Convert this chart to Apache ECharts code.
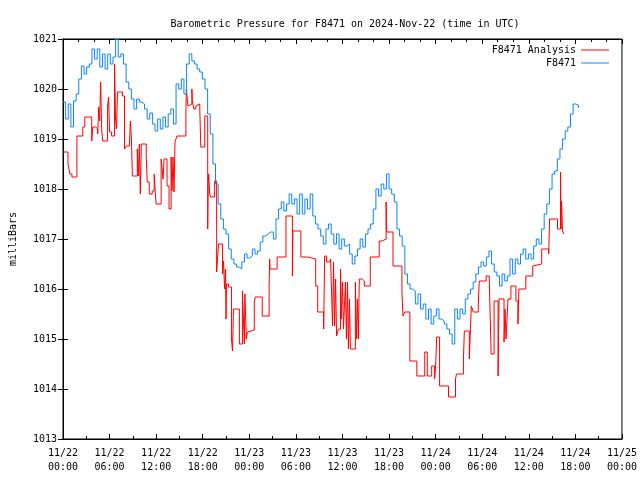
<!DOCTYPE html>
<html><head><meta charset="utf-8">
<script src="https://cdn.jsdelivr.net/npm/echarts@6/dist/echarts.min.js"></script>
<style>html,body{margin:0;padding:0;background:#fff}#c{width:640px;height:480px}</style>
</head><body><div id="c"></div>
<script>
const FONT = 'DejaVu Sans Mono';
const chartTitle = 'Barometric Pressure for F8471 on 2024-Nov-22 (time in UTC)';
const yAxisName = 'milliBars';
const seriesNames = ['F8471 Analysis', 'F8471'];
// x axis: hours since 2024-11-22 00:00 UTC
const xMin = 0, xMax = 72, xStep = 6;
const yMin = 1013, yMax = 1021, yStep = 1;

// F8471 observations, one reading about every 20.3 minutes, starting 11/22 00:00
const blueStepHours = 0.3387;
const blueValues = [
1019.74,1019.40,1019.70,1019.24,1019.76,1019.90,1020.20,1020.46,1020.30,1020.44,
1020.50,1020.80,1020.60,1020.80,1020.44,1020.70,1020.40,1020.70,1020.50,1020.64,
1021.00,1020.64,1020.70,1020.50,1020.14,1020.00,1019.80,1019.60,1019.80,1019.74,
1019.70,1019.60,1019.40,1019.52,1019.30,1019.16,1019.40,1019.20,1019.44,1019.24,
1019.50,1019.60,1019.30,1020.10,1020.00,1020.20,1019.90,1020.50,1020.70,1020.56,
1020.50,1020.40,1020.34,1020.20,1020.00,1019.50,1019.10,1018.50,1018.10,1017.70,
1017.40,1017.20,1017.10,1016.80,1016.60,1016.50,1016.44,1016.40,1016.54,1016.70,
1016.62,1016.66,1016.80,1016.70,1016.76,1016.94,1017.06,1017.10,1017.14,1017.14,
1017.00,1017.40,1017.60,1017.74,1017.56,1017.70,1017.90,1017.70,1017.80,1017.50,
1017.90,1017.50,1017.80,1017.60,1017.90,1017.46,1017.30,1017.20,1017.06,1016.90,
1017.20,1017.30,1017.10,1016.90,1017.10,1016.80,1017.00,1016.86,1016.90,1016.70,
1016.50,1016.66,1016.80,1017.00,1016.84,1017.10,1017.20,1017.30,1017.60,1018.00,
1017.86,1018.10,1018.00,1018.30,1018.00,1017.90,1017.74,1017.20,1017.06,1016.86,
1016.30,1016.10,1016.00,1015.96,1015.70,1015.90,1015.60,1015.70,1015.40,1015.60,
1015.30,1015.46,1015.60,1015.40,1015.36,1015.30,1015.20,1015.10,1014.90,1015.60,
1015.40,1015.60,1015.50,1015.80,1015.90,1016.00,1016.14,1016.30,1016.44,1016.54,
1016.46,1016.64,1016.76,1016.50,1016.34,1016.26,1016.06,1016.30,1016.16,1016.26,
1016.60,1016.30,1016.60,1016.50,1016.70,1016.80,1016.60,1016.70,1016.60,1016.86,
1017.00,1016.90,1017.20,1017.50,1017.70,1018.00,1018.30,1018.36,1018.60,1018.80,
1019.00,1019.16,1019.24,1019.50,1019.70,1019.68,1019.62
];

// F8471 Analysis: [hour, value] at each step change
const redSteps = [
[0,1018.74],[0.64,1018.5],[0.89,1018.3],[1.15,1018.24],[1.79,1019.06],[2.55,1019.24],[2.81,1019.44],
[3.70,1018.96],[3.83,1019.24],[4.21,1019.2],[4.47,1019.1],[4.60,1019.64],[4.72,1019.36],[4.85,1020.14],
[4.98,1019.2],[5.11,1018.96],[5.74,1019.66],[5.87,1019.84],[6.00,1019.14],[6.26,1019.06],[6.64,1020.5],
[6.77,1019.4],[6.89,1019.2],[7.02,1019.94],[7.66,1019.86],[7.92,1018.8],[8.17,1018.86],[8.55,1018.9],
[8.68,1019.36],[8.81,1019.0],[8.94,1018.26],[9.57,1018.8],[9.70,1018.26],[9.83,1018.9],[9.96,1017.9],
[10.09,1018.9],[10.72,1018.66],[10.85,1018.14],[11.11,1017.9],[11.49,1017.96],[11.75,1018.3],[11.87,1017.96],
[12.00,1017.7],[12.64,1018.6],[12.89,1018.2],[13.02,1018.6],[13.40,1018.06],[13.66,1017.6],[13.92,1018.64],
[14.04,1017.96],[14.17,1018.64],[14.30,1017.94],[14.43,1018.94],[14.55,1019.0],[14.68,1019.06],[15.83,1019.54],
[15.89,1020.0],[16.09,1019.66],[16.34,1019.7],[16.60,1020.0],[16.66,1019.76],[16.85,1019.6],[17.11,1019.66],
[17.36,1019.7],[17.62,1019.6],[17.75,1018.84],[18.26,1019.46],[18.64,1017.2],[18.70,1018.1],[18.77,1018.3],
[18.89,1017.9],[19.02,1017.84],[19.53,1018.16],[19.79,1016.34],[20.04,1016.9],[20.55,1016.3],[20.68,1016.56],
[20.81,1016.0],[20.94,1016.4],[21.00,1015.4],[21.06,1016.1],[21.32,1016.04],[21.70,1015.0],[21.83,1014.76],
[21.96,1015.6],[22.72,1014.9],[23.11,1015.96],[23.36,1014.9],[23.43,1015.9],[23.62,1015.0],[23.75,1015.14],
[24.00,1015.18],[24.64,1015.74],[24.77,1015.84],[25.66,1015.46],[26.55,1016.04],[26.62,1016.6],[26.68,1016.4],
[27.58,1016.64],[28.72,1017.46],[29.55,1016.26],[29.62,1017.16],[30.64,1016.64],[31.53,1016.6],[32.55,1016.06],
[32.81,1015.54],[33.58,1015.2],[33.70,1016.66],[33.96,1016.54],[34.34,1016.5],[34.47,1016.6],[34.72,1015.26],
[34.85,1016.54],[34.98,1015.26],[35.11,1016.2],[35.24,1015.06],[35.49,1015.2],[35.75,1016.4],[35.87,1015.4],
[36.00,1016.14],[36.13,1015.2],[36.38,1016.14],[36.51,1015.0],[36.64,1016.14],[36.77,1014.8],[36.90,1015.8],
[37.02,1014.8],[37.66,1016.14],[37.79,1015.0],[37.92,1015.8],[38.04,1015.0],[38.17,1016.2],[38.55,1016.16],
[38.81,1016.06],[39.58,1016.64],[40.73,1016.96],[41.11,1017.0],[41.62,1017.74],[41.68,1017.14],[42.51,1016.46],
[43.66,1015.94],[43.79,1015.46],[44.04,1015.54],[44.68,1014.56],[45.58,1014.26],[46.60,1014.74],[46.92,1014.26],
[47.49,1014.46],[47.87,1014.2],[48.00,1014.46],[48.13,1015.04],[48.51,1014.06],[49.66,1013.84],[50.56,1014.2],
[50.68,1014.3],[51.58,1014.6],[51.70,1015.16],[52.34,1014.6],[52.47,1015.16],[52.60,1015.66],[52.85,1015.54],
[53.49,1015.66],[53.62,1016.16],[54.51,1016.26],[54.90,1016.3],[55.15,1014.7],[55.53,1015.76],[56.04,1014.26],
[56.17,1015.8],[56.81,1014.94],[56.94,1015.6],[57.07,1015.0],[57.32,1015.8],[57.70,1016.06],[58.34,1015.76],
[58.60,1015.3],[58.73,1016.0],[59.62,1016.26],[60.51,1016.46],[60.64,1016.5],[61.66,1016.8],[62.56,1016.7],
[62.68,1017.4],[63.70,1017.2],[64.09,1018.34],[64.15,1017.2],[64.22,1017.76],[64.34,1017.16],[64.47,1017.12],
[64.53,1017.1]
];

const redColor = '#ff0000';
const blueColor = '#0a84ff';

function xLabel(v) {
  const d = 22 + Math.floor(v / 24);
  const hh = v % 24;
  return '11/' + d + '\n' + String(hh).padStart(2, '0') + ':00';
}
function yLabel(v) { return String(v); }

const blueData = blueValues.map((v, i) => [i * blueStepHours, v]);
const black = '#000';
const txt = { fontFamily: FONT, fontSize: 10, color: black };

const chart = echarts.init(document.getElementById('c'), null, { renderer: 'canvas' });
chart.setOption({
  animation: false,
  backgroundColor: '#fff',
  title: { text: chartTitle, left: 340, top: 14, textAlign: 'center',
    textStyle: Object.assign({ fontWeight: 'normal' }, txt) },
  legend: [
    { right: 31, top: 44.5, padding: 0, align: 'right', itemWidth: 28, itemHeight: 1,
      textStyle: Object.assign({ lineHeight: 11 }, txt),
      data: [{ name: seriesNames[0], icon: 'rect' }] },
    { right: 31, top: 57.5, padding: 0, align: 'right', itemWidth: 28, itemHeight: 1,
      textStyle: Object.assign({ lineHeight: 11 }, txt),
      data: [{ name: seriesNames[1], icon: 'rect' }] }
  ],
  grid: { left: 58, right: 18, top: 39, bottom: 41, show: true, borderColor: black, borderWidth: 1 },
  xAxis: [
    { type: 'value', min: xMin, max: xMax, interval: xStep,
      axisLine: { show: true, lineStyle: { color: black } },
      axisTick: { show: true, inside: true, length: 5, lineStyle: { color: black } },
      minorTick: { show: true, splitNumber: 2, length: 3, lineStyle: { color: black } },
      splitLine: { show: false }, minorSplitLine: { show: false },
      axisLabel: Object.assign({ formatter: xLabel, lineHeight: 14, margin: 7, showMinLabel: true, showMaxLabel: true }, txt) },
    { type: 'value', position: 'top', min: xMin, max: xMax, interval: xStep,
      axisLine: { show: true, lineStyle: { color: black } },
      axisTick: { show: true, inside: true, length: 5, lineStyle: { color: black } },
      minorTick: { show: true, splitNumber: 3, length: 3, lineStyle: { color: black } },
      splitLine: { show: false }, axisLabel: { show: false } }
  ],
  yAxis: [
    { type: 'value', min: yMin, max: yMax, interval: yStep,
      name: yAxisName, nameLocation: 'middle', nameGap: 45, nameRotate: 90,
      nameTextStyle: txt,
      axisLine: { show: true, lineStyle: { color: black } },
      axisTick: { show: true, inside: true, length: 5, lineStyle: { color: black } },
      splitLine: { show: false },
      axisLabel: Object.assign({ margin: 6, formatter: yLabel }, txt) },
    { type: 'value', position: 'right', min: yMin, max: yMax, interval: yStep,
      axisLine: { show: true, lineStyle: { color: black } },
      axisTick: { show: true, inside: true, length: 5, lineStyle: { color: black } },
      splitLine: { show: false }, axisLabel: { show: false } }
  ],
  series: [
    { name: seriesNames[0], type: 'line', step: 'end', data: redSteps, showSymbol: false,
      symbol: 'none', lineStyle: { width: 1, color: redColor }, itemStyle: { color: redColor } },
    { name: seriesNames[1], type: 'line', step: 'end', data: blueData, showSymbol: false,
      symbol: 'none', lineStyle: { width: 1, color: blueColor }, itemStyle: { color: blueColor } }
  ]
});
</script>
</body></html>
